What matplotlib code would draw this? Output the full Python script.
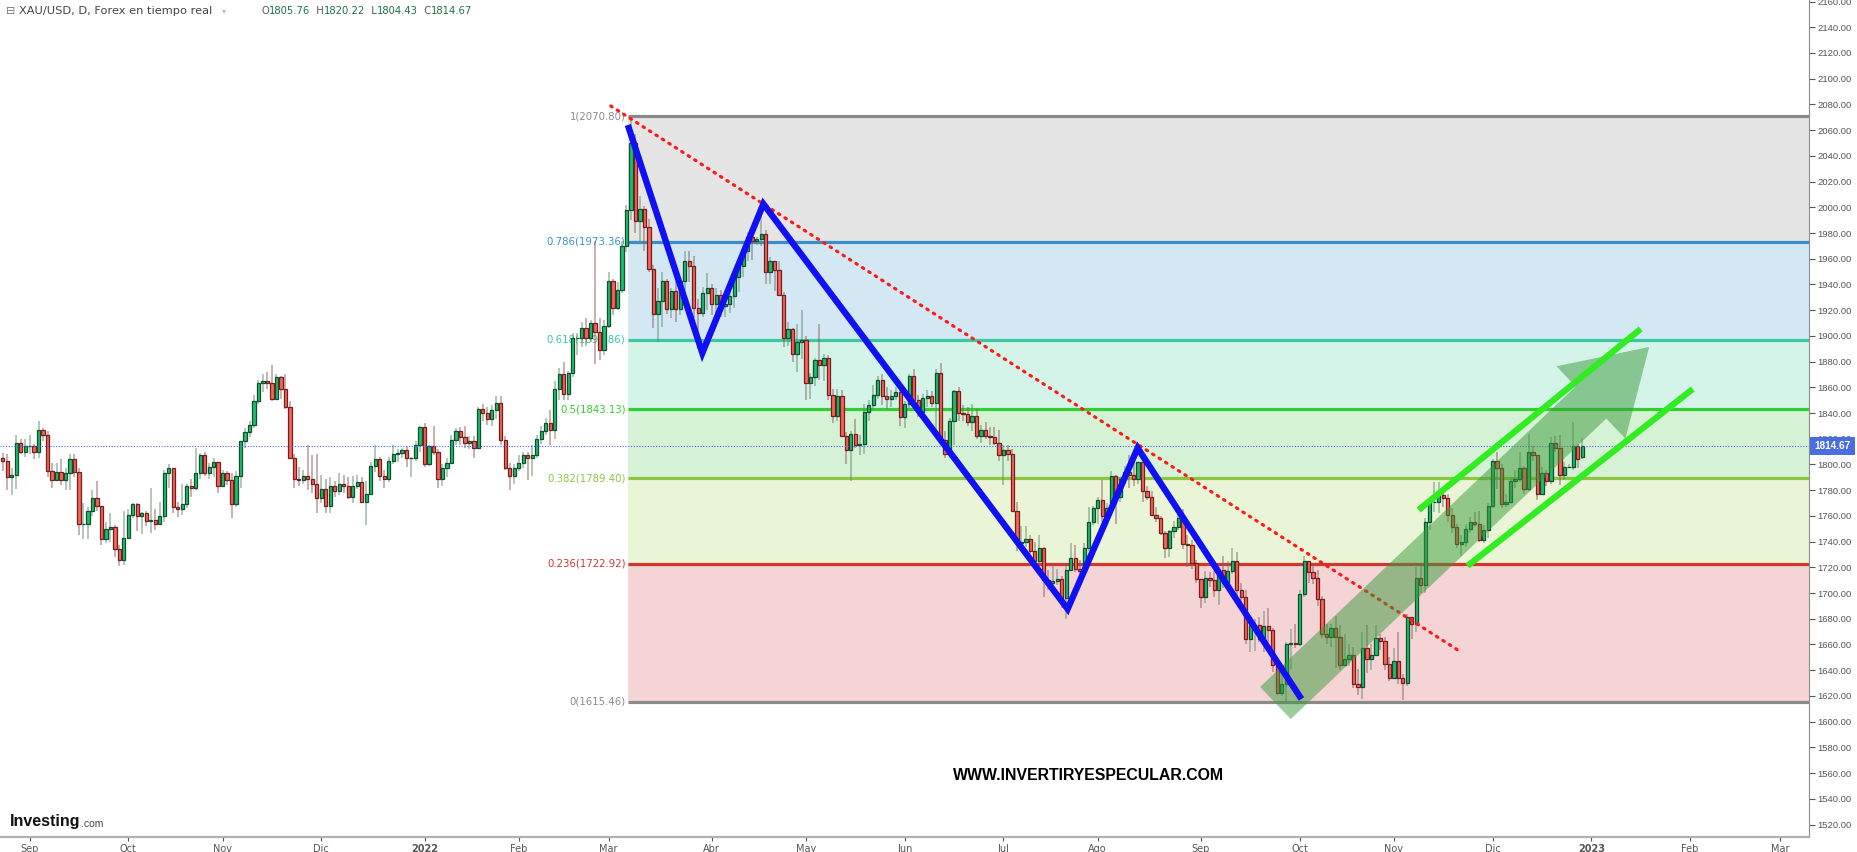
import numpy as np
import pandas as pd
import matplotlib
matplotlib.use('Agg')
import matplotlib.pyplot as plt
import matplotlib.transforms as mtransforms
from matplotlib.patches import FancyArrowPatch, ArrowStyle
from matplotlib.ticker import MultipleLocator, FormatStrFormatter

plt.rcParams['font.family'] = ['DejaVu Sans']

# -------------------------------------------------------
# Data: XAU/USD daily candles, 24 Aug 2021 .. 29 Dec 2022
# (open of each day = previous close)
# -------------------------------------------------------
first_open = 1805.0
closes = [
    1803, 1790, 1792, 1817, 1810, 1814,                                   # Aug 21
    1814, 1810, 1827, 1823, 1795, 1788, 1794, 1788, 1793, 1804, 1794,
    1754, 1754, 1764, 1774, 1768, 1742, 1750, 1751, 1734, 1726, 1743,     # Sep 21
    1761, 1769, 1760, 1762, 1756, 1757, 1754, 1760, 1793, 1797, 1767,
    1765, 1769, 1783, 1782, 1793, 1807, 1793, 1798, 1802, 1783,           # Oct 21
    1793, 1788, 1769, 1791, 1818, 1825, 1831, 1849, 1863, 1865, 1863,
    1851, 1868, 1859, 1845, 1805, 1789, 1788, 1791, 1789, 1785, 1774,     # Nov 21
    1781, 1768, 1783, 1779, 1785, 1783, 1775, 1783, 1786, 1771, 1777,
    1799, 1804, 1791, 1789, 1803, 1808, 1809, 1811, 1805, 1805, 1815, 1829,  # Dec 21
    1800, 1814, 1810, 1789, 1797, 1801, 1819, 1826, 1821, 1817, 1818,
    1813, 1843, 1840, 1835, 1842, 1848, 1819, 1797, 1791, 1797,           # Jan 22
    1801, 1807, 1805, 1807, 1820, 1826, 1832, 1827, 1859, 1870,
    1855, 1871, 1898, 1898, 1906, 1898, 1910, 1903, 1889, 1908,           # Feb 22
    1943, 1922, 1936, 1970, 1998, 2050, 1989, 1999, 1985, 1952, 1917,
    1927, 1943, 1921, 1935, 1921, 1943, 1958, 1954, 1922, 1918, 1933, 1937,  # Mar 22
    1925, 1932, 1923, 1925, 1931, 1946, 1954, 1966, 1977, 1974, 1975,
    1979, 1950, 1958, 1951, 1932, 1898, 1905, 1886, 1895, 1897,           # Apr 22
    1863, 1868, 1881, 1877, 1883, 1854, 1838, 1853, 1822, 1811, 1824,
    1815, 1816, 1841, 1846, 1854, 1866, 1853, 1851, 1853, 1856, 1837,     # May 22
    1847, 1869, 1850, 1841, 1852, 1853, 1848, 1871, 1819, 1808, 1834,
    1857, 1840, 1839, 1833, 1838, 1822, 1827, 1822, 1821, 1817, 1807,     # Jun 22
    1811, 1808, 1764, 1739, 1740, 1742, 1733, 1725, 1735, 1710, 1708,
    1709, 1711, 1696, 1718, 1727, 1719, 1717, 1735, 1755, 1766,           # Jul 22
    1772, 1760, 1766, 1791, 1775, 1789, 1794, 1792, 1789, 1802, 1779,
    1775, 1761, 1758, 1747, 1735, 1748, 1751, 1758, 1738, 1737, 1723, 1711,  # Aug 22
    1697, 1712, 1710, 1702, 1718, 1708, 1717, 1725, 1702, 1697, 1664,
    1675, 1675, 1664, 1674, 1671, 1644, 1622, 1629, 1660, 1661, 1660,     # Sep 22
    1699, 1725, 1716, 1712, 1695, 1668, 1666, 1673, 1666, 1644, 1649,
    1652, 1629, 1627, 1657, 1649, 1652, 1665, 1663, 1645, 1634,           # Oct 22
    1647, 1634, 1630, 1681, 1676, 1712, 1706, 1755, 1771, 1771, 1776,
    1774, 1761, 1751, 1738, 1740, 1750, 1755, 1754, 1741, 1749, 1768,     # Nov 22
    1803, 1797, 1769, 1771, 1787, 1789, 1797, 1781, 1810, 1807, 1777,
    1793, 1787, 1817, 1813, 1792, 1798, 1798, 1814, 1804, 1814.67,        # Dec 22
]
highs = [
    1809, 1808, 1797, 1823, 1820, 1820,
    1823, 1816, 1834, 1828, 1826, 1801, 1801, 1804, 1797, 1808, 1808,
    1797, 1770, 1767, 1780, 1787, 1767, 1755, 1762, 1753, 1737, 1764,
    1765, 1770, 1770, 1763, 1764, 1782, 1765, 1771, 1796, 1800, 1797,
    1771, 1785, 1785, 1789, 1813, 1809, 1810, 1801, 1805, 1800,
    1796, 1795, 1793, 1795, 1818, 1828, 1834, 1854, 1866, 1870, 1872,
    1877, 1870, 1869, 1870, 1849, 1808, 1798, 1796, 1815, 1807, 1808,
    1792, 1789, 1790, 1787, 1793, 1792, 1790, 1791, 1792, 1790, 1787,
    1802, 1815, 1806, 1796, 1806, 1815, 1812, 1813, 1814, 1806, 1818, 1830,
    1832, 1815, 1830, 1812, 1800, 1805, 1823, 1828, 1829, 1830, 1822,
    1822, 1845, 1847, 1845, 1846, 1853, 1853, 1822, 1801, 1800,
    1807, 1810, 1810, 1815, 1823, 1830, 1836, 1842, 1865, 1875,
    1880, 1873, 1902, 1902, 1911, 1914, 1912, 1974, 1914, 1912,
    1950, 1944, 1942, 1974, 2002, 2070, 2057, 2009, 2001, 1991, 1955,
    1937, 1950, 1944, 1937, 1943, 1946, 1966, 1966, 1962, 1929, 1938, 1949,
    1940, 1937, 1936, 1932, 1936, 1949, 1958, 1970, 1981, 1979, 1977,
    1998, 1982, 1961, 1958, 1958, 1934, 1911, 1906, 1909, 1920,
    1900, 1871, 1883, 1909, 1886, 1885, 1859, 1859, 1858, 1825, 1826,
    1835, 1823, 1847, 1850, 1862, 1869, 1870, 1860, 1858, 1860, 1858,
    1849, 1870, 1874, 1854, 1855, 1858, 1857, 1874, 1879, 1826, 1836,
    1858, 1860, 1846, 1845, 1847, 1843, 1831, 1833, 1829, 1829, 1827,
    1815, 1815, 1812, 1771, 1752, 1752, 1745, 1740, 1745, 1736, 1718,
    1722, 1719, 1713, 1721, 1739, 1737, 1726, 1739, 1767, 1768,
    1775, 1788, 1770, 1795, 1792, 1790, 1799, 1807, 1802, 1802, 1800,
    1783, 1779, 1767, 1760, 1748, 1749, 1756, 1765, 1765, 1745, 1741, 1726,
    1711, 1717, 1716, 1717, 1720, 1729, 1725, 1735, 1732, 1708, 1702,
    1682, 1680, 1681, 1686, 1688, 1673, 1648, 1642, 1662, 1672, 1676,
    1702, 1729, 1725, 1721, 1718, 1698, 1676, 1676, 1682, 1675, 1668,
    1660, 1658, 1641, 1670, 1675, 1660, 1675, 1668, 1666, 1650,
    1657, 1670, 1637, 1684, 1681, 1720, 1722, 1758, 1774, 1786, 1786,
    1780, 1777, 1766, 1754, 1745, 1754, 1759, 1763, 1764, 1753, 1770,
    1804, 1810, 1800, 1777, 1790, 1796, 1810, 1799, 1824, 1814, 1807,
    1798, 1796, 1821, 1822, 1823, 1802, 1800, 1833, 1816, 1820.22,
]
lows = [
    1795, 1780, 1776, 1781, 1808, 1806,
    1808, 1804, 1805, 1818, 1790, 1782, 1787, 1784, 1780, 1780, 1790,
    1745, 1742, 1742, 1760, 1764, 1737, 1739, 1740, 1728, 1721, 1722,
    1742, 1758, 1748, 1746, 1752, 1747, 1749, 1753, 1755, 1782, 1762,
    1759, 1761, 1766, 1775, 1780, 1789, 1791, 1789, 1790, 1778,
    1783, 1784, 1758, 1767, 1782, 1813, 1821, 1828, 1847, 1856, 1859,
    1849, 1851, 1851, 1843, 1804, 1782, 1783, 1785, 1780, 1778, 1762,
    1770, 1762, 1762, 1775, 1776, 1778, 1773, 1770, 1781, 1770, 1753,
    1777, 1794, 1787, 1782, 1786, 1800, 1802, 1805, 1798, 1790, 1803, 1810,
    1798, 1799, 1807, 1782, 1783, 1790, 1800, 1815, 1815, 1813, 1812,
    1805, 1812, 1834, 1831, 1830, 1835, 1815, 1796, 1780, 1785,
    1795, 1797, 1788, 1791, 1805, 1816, 1823, 1815, 1820, 1850,
    1850, 1850, 1868, 1885, 1891, 1892, 1895, 1878, 1881, 1885,
    1906, 1916, 1920, 1933, 1965, 1990, 1980, 1973, 1966, 1950, 1906,
    1895, 1907, 1917, 1914, 1911, 1916, 1936, 1942, 1914, 1890, 1915, 1920,
    1916, 1916, 1915, 1915, 1918, 1922, 1934, 1946, 1958, 1959, 1971,
    1970, 1940, 1940, 1935, 1931, 1891, 1892, 1880, 1872, 1882,
    1850, 1851, 1861, 1866, 1865, 1850, 1832, 1834, 1821, 1800, 1787,
    1813, 1807, 1808, 1834, 1843, 1851, 1846, 1843, 1845, 1850, 1830,
    1828, 1844, 1848, 1837, 1838, 1845, 1845, 1825, 1818, 1805, 1805,
    1815, 1834, 1834, 1830, 1826, 1820, 1817, 1820, 1815, 1815, 1803,
    1784, 1803, 1763, 1733, 1733, 1736, 1730, 1722, 1723, 1697, 1702,
    1705, 1706, 1688, 1680, 1717, 1716, 1711, 1715, 1733, 1753,
    1754, 1755, 1754, 1764, 1754, 1771, 1785, 1782, 1783, 1785, 1771,
    1772, 1760, 1755, 1745, 1727, 1728, 1743, 1749, 1734, 1720, 1719, 1708,
    1688, 1692, 1705, 1697, 1691, 1704, 1707, 1715, 1697, 1690, 1660,
    1654, 1655, 1662, 1654, 1660, 1639, 1621, 1620, 1615, 1641, 1657,
    1659, 1697, 1708, 1707, 1690, 1665, 1660, 1658, 1642, 1640, 1644,
    1643, 1626, 1621, 1618, 1638, 1640, 1651, 1656, 1640, 1632,
    1633, 1629, 1617, 1628, 1664, 1670, 1700, 1700, 1749, 1763, 1762,
    1767, 1755, 1747, 1735, 1729, 1736, 1747, 1751, 1740, 1739, 1743,
    1766, 1781, 1766, 1767, 1770, 1782, 1786, 1777, 1779, 1803, 1772,
    1776, 1783, 1785, 1810, 1784, 1788, 1797, 1796, 1797, 1804.43,
]
last_open = 1805.76
last_price = 1814.67

# Fibonacci retracement drawn from the March high to the September low
fib_high = 2070.80
fib_low = 1615.46
fib_ratios = [1, 0.786, 0.618, 0.5, 0.382, 0.236, 0]
fib_line_colors = ['#8a8a8a', '#3b8fc8', '#3cc9a2', '#2fcf2f', '#8cc63f', '#d2372e', '#8a8a8a']
fib_fill_colors = ['#e5e5e5', '#d4e8f4', '#d4f4ea', '#d6f2d6', '#e9f5d6', '#f5d4d5']
fib_start = 139.3

# Hand-drawn annotations (x = trading-day index, y = price)
zigzag_x = [139.3, 155.9, 169.5, 237.3, 252.9, 289.4]
zigzag_y = [2064, 1886.7, 2002.6, 1687.6, 1812.8, 1617.6]
trend_x = [135.5, 324.9]
trend_y = [2078.8, 1654.2]
channel_up_x = [315.5, 365.0]
channel_up_y = [1764.6, 1905.4]
channel_lo_x = [326.4, 376.6]
channel_lo_y = [1721.1, 1858.7]
arrow_tail = (283.6, 1614.5)
arrow_tip = (366.9, 1891.4)

month_names = {2: 'Feb', 3: 'Mar', 4: 'Abr', 5: 'May', 6: 'Jun', 7: 'Jul',
               8: 'Ago', 9: 'Sep', 10: 'Oct', 11: 'Nov', 12: 'Dic'}

# -------------------------------------------------------
# Prepare candles
# -------------------------------------------------------
dates = pd.bdate_range('2021-08-24', '2022-12-29')
c = np.array(closes, dtype=float)
o = np.r_[first_open, c[:-1]]
o[-1] = last_open
h = np.maximum(np.array(highs, dtype=float), np.maximum(o, c))
l = np.minimum(np.array(lows, dtype=float), np.minimum(o, c))
assert len(c) == len(dates) == len(h) == len(l)
x = np.arange(len(c))
up = c >= o
dn = ~up

calendar = pd.bdate_range('2021-08-24', '2023-03-31')
new_month = np.r_[False, calendar.month[1:] != calendar.month[:-1]]
tick_pos = np.where(new_month)[0]
tick_lab = [str(d.year) if d.month == 1 else month_names[d.month] for d in calendar[tick_pos]]

# -------------------------------------------------------
# Figure
# -------------------------------------------------------
fig = plt.figure(figsize=(18.58, 8.52), dpi=100)
ax = fig.add_axes([0, 15 / 852, 1809 / 1858, 837 / 852])
ax.set_xlim(-0.6, 402.5)
ax.set_ylim(1510.3, 2161.2)

# Fibonacci zones
levels = [fib_low + r * (fib_high - fib_low) for r in fib_ratios]
for i in range(len(levels) - 1):
    ax.fill_between([fib_start, 420], levels[i + 1], levels[i],
                    color=fib_fill_colors[i], lw=0, zorder=1)
for r, lev, col in zip(fib_ratios, levels, fib_line_colors):
    ax.plot([fib_start, 420], [lev, lev], color=col, lw=2.3, zorder=2,
            solid_capstyle='butt')
    ax.text(fib_start - 0.5, lev, f'{r:g}({lev:.2f})', ha='right', va='center',
            fontsize=7.3, color=col, zorder=2)

# Candles
ax.vlines(x[up], l[up], h[up], color='#5d8a6c', lw=1.1, alpha=0.6, zorder=3)
ax.vlines(x[dn], l[dn], h[dn], color='#8a5a5a', lw=1.1, alpha=0.6, zorder=3)
ax.bar(x[up], (c - o)[up], bottom=o[up], width=0.72, color='#20bd70',
       edgecolor='#0f4f2c', lw=0.9, zorder=4)
ax.bar(x[dn], (c - o)[dn], bottom=o[dn], width=0.72, color='#f0675c',
       edgecolor='#7a1c1c', lw=0.9, zorder=4)

# Last price line + label
ax.axhline(last_price, color='#4466e6', lw=0.8, ls=(0, (1, 1.5)), zorder=5)
tr = mtransforms.blended_transform_factory(ax.transAxes, ax.transData)
ax.text(1.003, last_price, f'{last_price:.2f}', transform=tr, ha='left', va='center',
        fontsize=7.2, color='white', fontweight='bold', clip_on=False, zorder=10,
        family='Liberation Sans',
        bbox=dict(boxstyle='square,pad=0.4', fc='#4a6ee0', ec='none'))

# Trend line, zigzag, channel, arrow
ax.plot(trend_x, trend_y, color='#ff1a1a', lw=2.3, ls=(0, (0.5, 1.9)),
        dash_capstyle='round', zorder=6)
ax.add_patch(FancyArrowPatch(arrow_tail, arrow_tip, mutation_scale=1,
                             arrowstyle=ArrowStyle.Simple(head_length=58, head_width=72, tail_width=32),
                             color='#3a9a3a', alpha=0.5, lw=0, shrinkA=0, shrinkB=0, zorder=7))
ax.plot(zigzag_x, zigzag_y, color='#1010f5', lw=4.6, zorder=8,
        solid_joinstyle='miter', solid_capstyle='butt')
ax.plot(channel_up_x, channel_up_y, color='#30ec20', lw=4.5, zorder=8, solid_capstyle='butt')
ax.plot(channel_lo_x, channel_lo_y, color='#30ec20', lw=4.5, zorder=8, solid_capstyle='butt')

# Axes styling
for s in ['left', 'top']:
    ax.spines[s].set_visible(False)
ax.spines['right'].set_color('#8c8c8c')
ax.spines['bottom'].set_color('#b0b0b0')
ax.spines['bottom'].set_linewidth(1.6)
ax.yaxis.tick_right()
ax.yaxis.set_major_locator(MultipleLocator(20))
ax.yaxis.set_major_formatter(FormatStrFormatter('%.2f'))
ax.tick_params(axis='y', labelsize=6.8, colors='#555555', length=4, pad=2)
ax.set_xticks(tick_pos)
ax.set_xticklabels(tick_lab)
ax.tick_params(axis='x', labelsize=7, colors='#555555', length=3, pad=2)
for t in ax.get_yticklabels():
    t.set_family('Liberation Sans')
for t, lab in zip(ax.get_xticklabels(), tick_lab):
    if lab.isdigit():
        t.set_fontweight('bold')

# Header
fig.text(6 / 1858, 1 - 11 / 852, '\u229f', fontsize=8, color='#777777', va='center')
fig.text(19 / 1858, 1 - 11 / 852, 'XAU/USD, D, Forex en tiempo real', fontsize=8.2,
         color='#444444', va='center')
fig.text(222 / 1858, 1 - 11 / 852, '\u25be', fontsize=6, color='#bbbbbb', va='center')
prev = fig.text(261 / 1858, 1 - 11 / 852, 'O', fontsize=7.2, color='#555555', va='center')
for part, col in [('1805.76', '#1f7044'), ('  H', '#555555'), ('1820.22', '#1f7044'),
                  ('  L', '#555555'), ('1804.43', '#1f7044'), ('  C', '#555555'),
                  ('1814.67', '#1f7044')]:
    prev = ax.annotate(part, xy=(1, 0), xycoords=prev, va='bottom', ha='left',
                       fontsize=7.2, color=col)

# Logo and watermark
logo = fig.text(10 / 1858, 1 - 826 / 852, 'Investing', fontsize=11.5, fontweight='bold',
                color='#111111', va='baseline',
                family=['Liberation Sans Narrow', 'Liberation Sans'])
ax.annotate('.com', xy=(1, 0), xycoords=logo, va='bottom', ha='left', fontsize=7.5,
            color='#444444', family=['Liberation Sans Narrow', 'Liberation Sans'])
fig.text(1089 / 1858, 1 - 776 / 852, 'WWW.INVERTIRYESPECULAR.COM', ha='center', va='center',
         fontsize=11.4, fontweight='bold', color='#000000', family='Liberation Sans')

fig.savefig('out.png', dpi=100)
